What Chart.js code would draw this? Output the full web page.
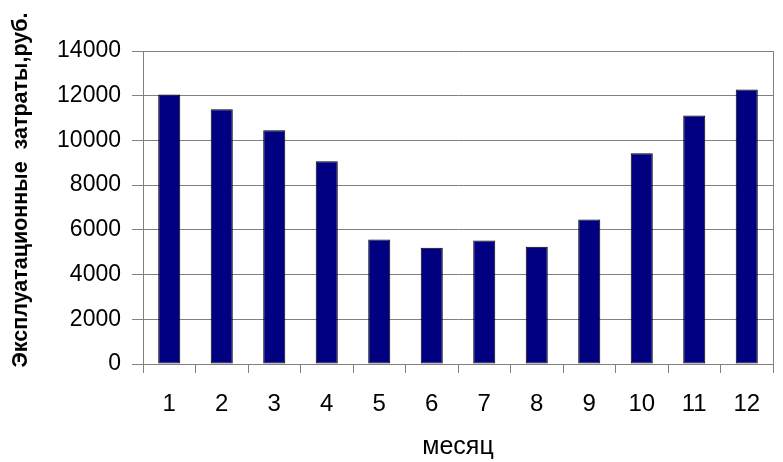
<!DOCTYPE html>
<html>
<head>
<meta charset="utf-8">
<script src="https://cdn.jsdelivr.net/npm/chart.js"></script>
<style>
  html, body { margin: 0; padding: 0; background: #fff; }
  #wrap { width: 783px; height: 462px; }
</style>
</head>
<body>
<div id="wrap"><canvas id="c" width="783" height="462"></canvas></div>
<script>
// data
const months = ['1', '2', '3', '4', '5', '6', '7', '8', '9', '10', '11', '12'];
const costs = [12050, 11400, 10450, 9070, 5570, 5200, 5520, 5250, 6460, 9430, 11110, 12280];
const yTitle = 'Эксплуатационные  затраты,руб.';
const xTitle = 'месяц';

const FONT = 'Arial, "Liberation Sans", sans-serif';

// right edge of the plot frame + rotated y title
const frame = {
    id: 'frame',
    afterDraw(chart) {
        const { ctx, chartArea: a } = chart;
        ctx.save();
        ctx.strokeStyle = '#808080';
        ctx.lineWidth = 1;
        ctx.beginPath();
        ctx.moveTo(a.right + 0.5, a.top);
        ctx.lineTo(a.right + 0.5, a.bottom);
        ctx.stroke();

        ctx.translate(21, 190);
        ctx.rotate(-Math.PI / 2);
        ctx.fillStyle = '#000';
        ctx.font = 'bold 21.5px ' + FONT;
        ctx.textAlign = 'center';
        ctx.textBaseline = 'middle';
        ctx.fillText(yTitle, 0, 0);
        ctx.restore();
    }
};

new Chart(document.getElementById('c'), {
    type: 'bar',
    data: {
        labels: months,
        datasets: [{
            data: costs,
            backgroundColor: '#000080',
            borderColor: '#000000',
            borderWidth: 1,
            borderSkipped: false,
            barPercentage: 0.42,
            categoryPercentage: 1.0
        }]
    },
    options: {
        responsive: false,
        animation: false,
        layout: { padding: { top: 51, right: 10, left: 0, bottom: 0 } },
        plugins: { legend: { display: false }, tooltip: { enabled: false } },
        scales: {
            x: {
                offset: true,
                grid: { offset: true, drawOnChartArea: false, drawTicks: true, tickLength: 9, color: '#808080' },
                border: { display: true, color: '#808080' },
                ticks: { color: '#000', font: { size: 24, family: FONT }, padding: 16.6 },
                title: { display: true, text: xTitle, color: '#000', font: { size: 25, family: FONT }, padding: { top: 0, bottom: 0 } },
                afterFit(scale) { scale.height = 98; }
            },
            y: {
                min: 0,
                max: 14000,
                ticks: {
                    stepSize: 2000, color: '#000', font: { size: 23, family: FONT }, padding: 11,
                    callback: v => String(v)
                },
                grid: { color: '#808080', tickLength: 11 },
                border: { display: true, color: '#808080' },
                afterFit(scale) { scale.width = 143; }
            }
        }
    },
    plugins: [frame]
});
</script>
</body>
</html>
